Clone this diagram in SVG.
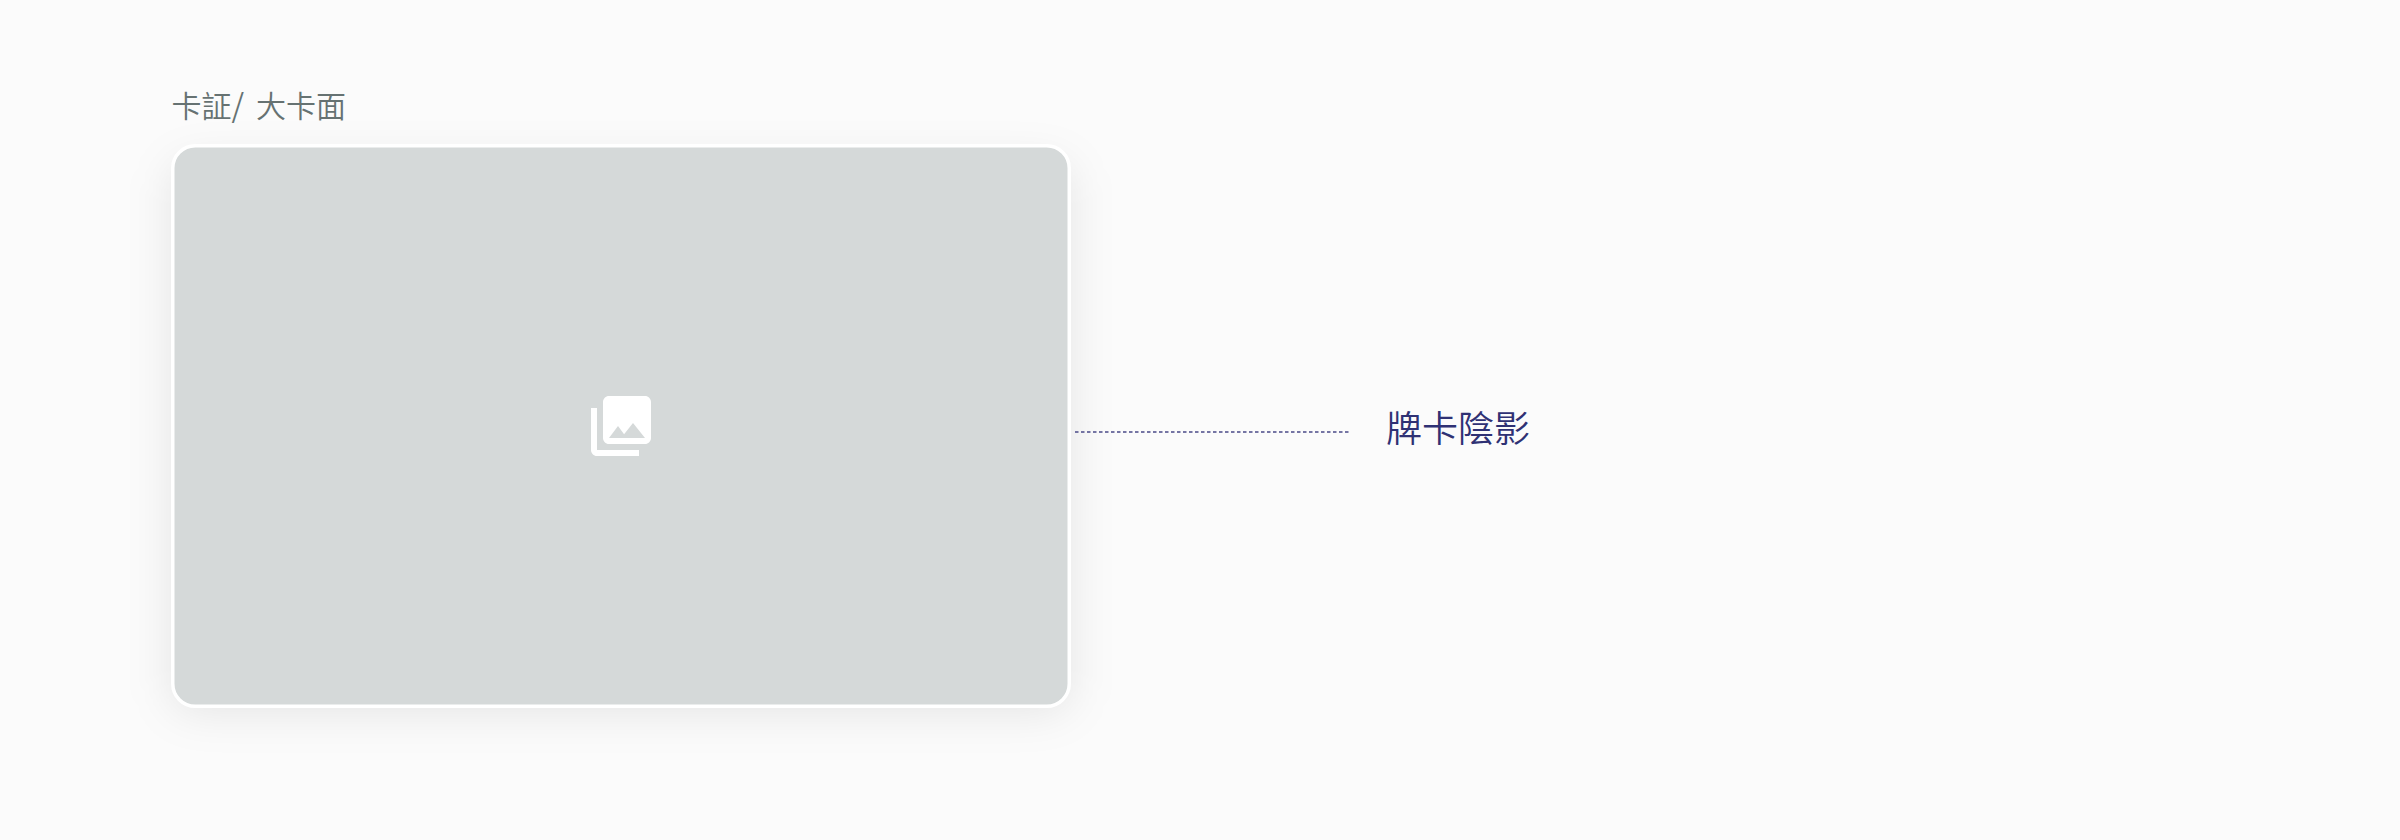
<svg xmlns="http://www.w3.org/2000/svg" width="2400" height="840" viewBox="0 0 2400 840">
<style>
.t{font-family:"Noto Sans CJK TC","Noto Sans CJK SC",sans-serif;font-weight:350}
</style>
<defs>
<filter id="sh" x="-15%" y="-15%" width="130%" height="140%"><feGaussianBlur stdDeviation="22"/></filter>
</defs>
<rect width="2400" height="840" fill="#fbfbfb"/>
<g id="title"><text class="t" x="171.500" y="117" font-size="30" fill="#667272">卡証<tspan font-size="32">/</tspan> <tspan x="256">大卡面</tspan></text></g>
<g id="card">
<rect x="171" y="162" width="900" height="550" rx="24" fill="#000" fill-opacity=".09" filter="url(#sh)"/>
<rect x="172.750" y="145.750" width="896.500" height="560.500" rx="22.500" fill="#d5d9d9" stroke="#fff" stroke-width="3.500"/>
<path transform="translate(585 390) scale(3)" fill="#fff" d="M22 16V4c0-1.100-.9-2-2-2H8c-1.100 0-2 .9-2 2v12c0 1.100.9 2 2 2h12c1.100 0 2-.9 2-2zm-11-4l2.030 2.710L16 11l4 5H8l3-4zM2 6v14c0 1.100.9 2 2 2h14v-2H4V6H2z"/>
</g>
<g id="connectors"><line x1="1075" y1="432" x2="1349" y2="432" stroke="#4a4a88" stroke-width="1.600" stroke-dasharray="3.500 2.500"/></g>
<g id="label"><text class="t" x="1386" y="442" font-size="36" fill="#2f3174">牌卡陰影</text></g>
</svg>
